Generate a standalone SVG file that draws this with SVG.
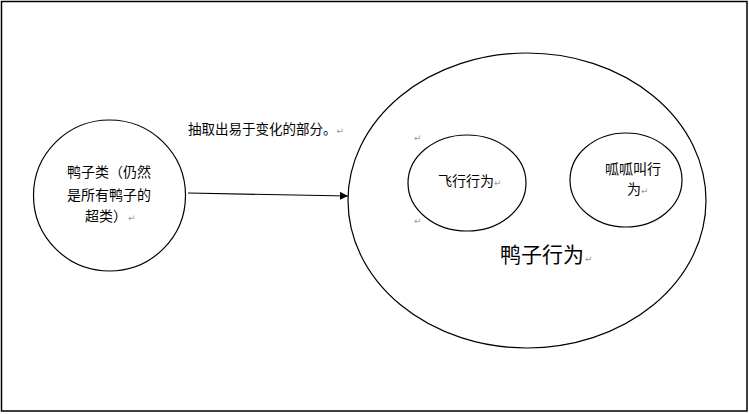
<svg xmlns="http://www.w3.org/2000/svg" width="749" height="414" viewBox="0 0 749 414">
<style>
.sh{fill:#fff;stroke:#000;stroke-width:1.2}
.t{font-family:"Noto Sans CJK SC","Liberation Sans",sans-serif;font-size:14px;fill:#000}
.pm{font-family:"DejaVu Sans",sans-serif;font-size:9px;fill:#999}
</style>
<defs>
<marker id="ah" viewBox="0 0 10 10" refX="10" refY="5" markerWidth="9" markerHeight="8" markerUnits="userSpaceOnUse" orient="auto">
<path d="M0,0 L10,5 L0,10 z" fill="#000"/>
</marker>
</defs>
<rect x="1.5" y="1.5" width="745.5" height="409.5" fill="#fff" stroke="#000" stroke-width="1.5"/>
<g id="behavior">
<ellipse class="sh" cx="527" cy="200.5" rx="179" ry="147.5"/>
<text class="t" x="500" y="262" style="font-size:21px">鸭子行为<tspan class="pm" dx="1">↵</tspan></text>
</g>
<g id="duck">
<ellipse class="sh" cx="109.5" cy="195.5" rx="76" ry="75.5"/>
<text class="t" x="67" y="177">鸭子类（仍然</text>
<text class="t" x="67" y="200">是所有鸭子的</text>
<text class="t" x="85" y="221">超类）<tspan class="pm" dx="1">↵</tspan></text>
</g>
<g id="fly">
<ellipse class="sh" cx="467" cy="183" rx="59" ry="48"/>
<text class="t" x="438" y="186">飞行行为<tspan class="pm">↵</tspan></text>
<text class="pm" x="414" y="141">↵</text>
<text class="pm" x="414" y="224">↵</text>
</g>
<g id="quack">
<ellipse class="sh" cx="626" cy="180" rx="56" ry="47"/>
<text class="t" x="605" y="174">呱呱叫行</text>
<text class="t" x="627" y="194">为<tspan class="pm">↵</tspan></text>
</g>
<g id="label">
<text class="t" x="188" y="134" style="font-size:13.5px">抽取出易于变化的部分。<tspan class="pm">↵</tspan></text>
</g>
<g id="connectors">
<line x1="188" y1="193" x2="348" y2="196" stroke="#000" stroke-width="1.2" marker-end="url(#ah)"/>
</g>
</svg>
